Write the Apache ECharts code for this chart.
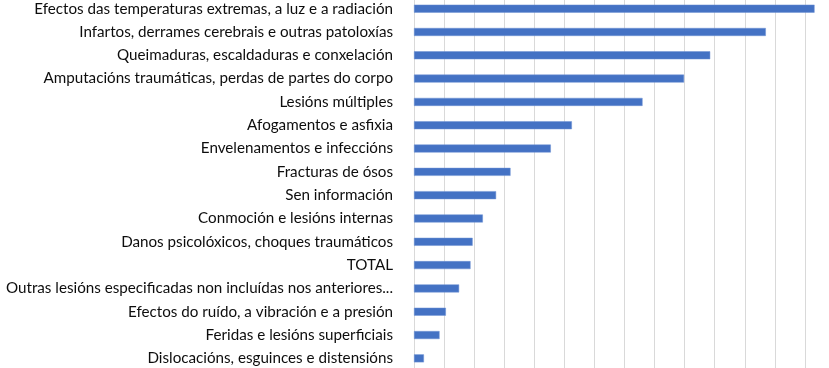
<!DOCTYPE html>
<html><head><meta charset="utf-8">
<script src="https://cdn.jsdelivr.net/npm/echarts@6/dist/echarts.min.js"></script>
<style>html,body{margin:0;padding:0;background:#fff}#c{width:829px;height:368px}</style>
</head><body><div id="c"></div>
<script>
const categories = [
  "Efectos das temperaturas extremas, a luz e a radiación",
  "Infartos, derrames cerebrais e outras patoloxías",
  "Queimaduras, escaldaduras e conxelación",
  "Amputacións traumáticas, perdas de partes do corpo",
  "Lesións múltiples",
  "Afogamentos e asfixia",
  "Envelenamentos e infeccións",
  "Fracturas de ósos",
  "Sen información",
  "Conmoción e lesións internas",
  "Danos psicolóxicos, choques traumáticos",
  "TOTAL",
  "Outras lesións especificadas non incluídas nos anteriores...",
  "Efectos do ruído, a vibración e a presión",
  "Feridas e lesións superficiais",
  "Dislocacións, esguinces e distensións"
];
const values = [13.32, 11.70, 9.85, 8.98, 7.60, 5.25, 4.55, 3.21, 2.73, 2.29, 1.95, 1.88, 1.50, 1.06, 0.85, 0.33];

const chart = echarts.init(document.getElementById('c'), null, {renderer: 'canvas'});
chart.setOption({
  animation: false,
  grid: {left: 414, top: -3, width: 421, height: 373, containLabel: false, outerBoundsMode: 'none'},
  xAxis: {
    type: 'value', min: 0, max: 14, interval: 1,
    axisLabel: {show: false}, axisLine: {show: false}, axisTick: {show: false},
    splitLine: {show: true, lineStyle: {color: '#d9d9d9', width: 1}}
  },
  yAxis: {
    type: 'category', data: categories, inverse: true,
    axisLine: {show: false}, axisTick: {show: false},
    axisLabel: {color: '#0d0d0d', fontFamily: 'Lato', fontSize: 15.2, margin: 21}
  },
  series: [{
    type: 'bar', data: values, barWidth: 8,
    itemStyle: {color: '#4472C4', borderColor: '#6f93d4', borderWidth: 0.5}
  }]
});
</script></body></html>
